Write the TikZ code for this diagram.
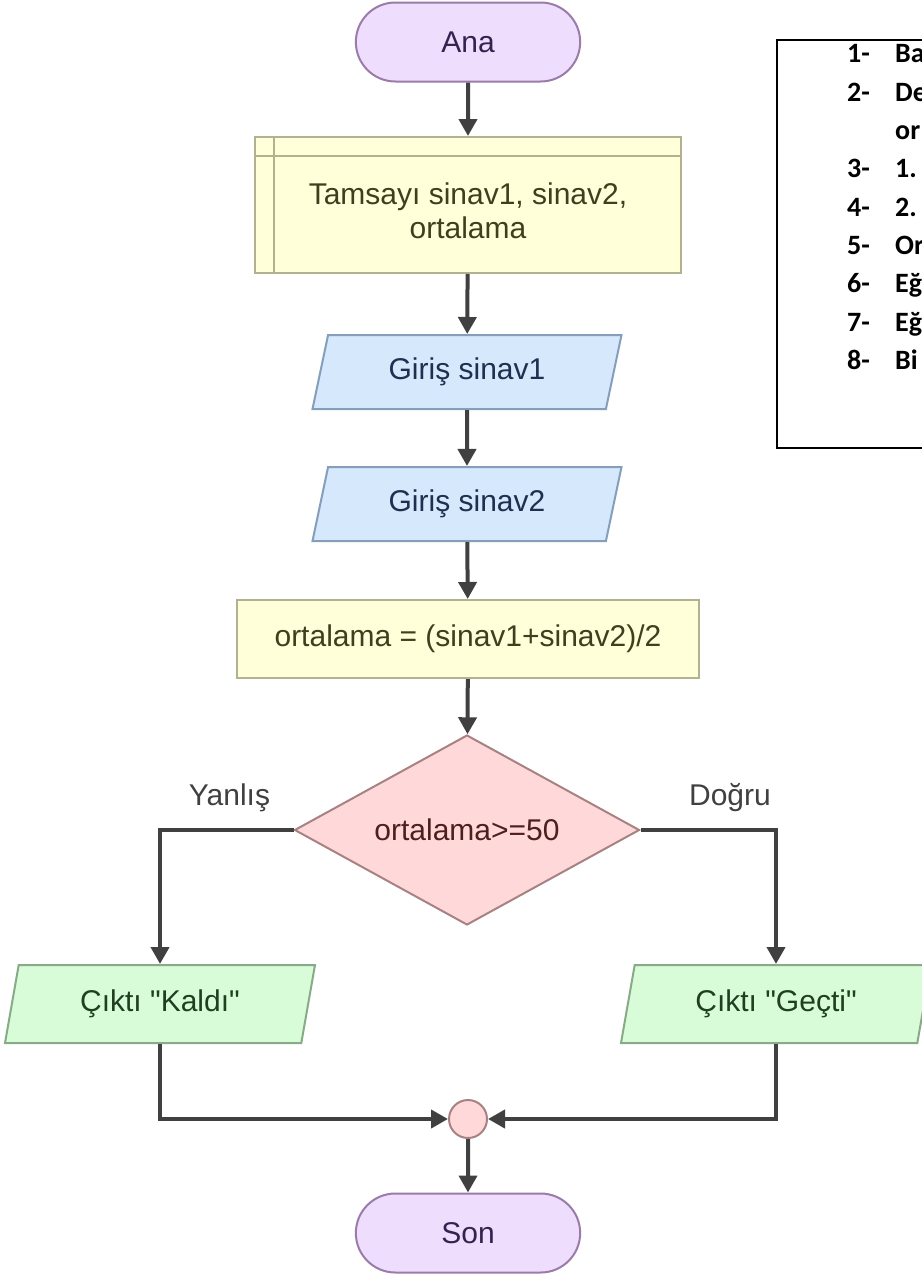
\documentclass[tikz,border=0pt]{standalone}
\usepackage{fontspec}
\setmainfont{Liberation Sans}
\newfontfamily\notefont{Carlito}
\usetikzlibrary{shapes.geometric,shapes.misc,arrows.meta}

\definecolor{termfill}{HTML}{EEDDFD}
\definecolor{termline}{HTML}{9A7BAA}
\definecolor{termtext}{HTML}{35234F}
\definecolor{declfill}{HTML}{FFFFDA}
\definecolor{declline}{HTML}{B2B290}
\definecolor{decltext}{HTML}{3F3F1F}
\definecolor{infill}{HTML}{D5E8FC}
\definecolor{inline}{HTML}{859EBB}
\definecolor{intext}{HTML}{1F2F4F}
\definecolor{condfill}{HTML}{FFD9D9}
\definecolor{condline}{HTML}{A88282}
\definecolor{condtext}{HTML}{4F1F1F}
\definecolor{outfill}{HTML}{D8FCD8}
\definecolor{outline}{HTML}{88AA88}
\definecolor{outtext}{HTML}{1F3F1F}
\definecolor{flowgray}{HTML}{404040}

\begin{document}
\begin{tikzpicture}[x=1pt,y=-1pt,
  every node/.style={font=\fontsize{30}{34}\selectfont},
  term/.style={rounded rectangle, draw=termline, fill=termfill, text=termtext,
    line width=2pt, minimum width=231pt, minimum height=79pt},
  declbox/.style={rectangle, draw=declline, fill=declfill, text=decltext,
    line width=2pt, minimum width=426pt, minimum height=136pt, inner sep=0pt},
  procbox/.style={rectangle, draw=declline, fill=declfill, text=decltext,
    line width=2pt, minimum width=462pt, minimum height=78pt},
  inbox/.style={trapezium, trapezium left angle=61, trapezium right angle=119,
    trapezium stretches body, draw=inline, fill=infill, text=intext,
    line width=2pt, minimum width=309pt, minimum height=74pt, inner sep=0pt},
  outbox/.style={trapezium, trapezium left angle=64, trapezium right angle=116,
    trapezium stretches body, draw=outline, fill=outfill, text=outtext,
    line width=2pt, minimum width=310pt, minimum height=78pt, inner sep=0pt},
  decision/.style={diamond, aspect=1.82, minimum width=345pt, minimum height=190pt,
    inner sep=0pt, draw=condline, fill=condfill, text=condtext, line width=2pt},
  joint/.style={circle, minimum size=38pt, inner sep=0pt, draw=condline,
    fill=condfill, line width=2pt},
  flow/.style={draw=flowgray, line width=4pt, -{Triangle[width=18pt,length=17pt]}},
  lbl/.style={text=flowgray, inner sep=0pt},
  stepnum/.style={font=\notefont\bfseries\fontsize{28}{32}\selectfont, inner sep=0pt, anchor=base west},
  notebox/.style={draw=black, line width=1.5pt}
]
\useasboundingbox (0,0) rectangle (921,1277);

% flowchart
\node[term] (ana) at (468,42) {Ana};
\node[declbox] (decl) at (468,205)
  {\raisebox{0pt}[\dimexpr\height+20pt\relax][\depth]{\begin{tabular}{@{}c@{}}Tamsayı sinav1, sinav2,\\ ortalama\end{tabular}}};
\draw[declline, line width=2pt] ([xshift=20pt]decl.north west) -- ([xshift=20pt]decl.south west);
\draw[declline, line width=2pt] ([yshift=-20pt]decl.north west) -- ([yshift=-20pt]decl.north east);
\node[inbox] (in1) at (467,372) {Giriş sinav1};
\node[inbox] (in2) at (467,504) {Giriş sinav2};
\node[procbox] (calc) at (468,639) {ortalama = (sinav1+sinav2)/2};
\node[decision] (cond) at (467,830) {ortalama>=50};
\node[outbox] (outF) at (160,1004) {Çıktı \textquotedbl Kaldı\textquotedbl};
\node[outbox] (outT) at (776,1004) {Çıktı \textquotedbl Geçti\textquotedbl};
\node[joint] (merge) at (468,1119) {};
\node[term] (son) at (468,1233) {Son};

\draw[flow] (ana) -- (decl);
\draw[flow] (decl) -- (in1);
\draw[flow] (in1) -- (in2);
\draw[flow] (in2) -- (calc);
\draw[flow] (calc) -- (cond);
\draw[flow] (cond.west) -| node[lbl, pos=0.24, above=16pt] {Yanlış} (outF.north);
\draw[flow] (cond.east) -| node[lbl, pos=0.33, above=16pt] {Doğru} (outT.north);
\draw[flow] (outF.south) |- (merge.west);
\draw[flow] (outT.south) |- (merge.east);
\draw[flow] (merge) -- (son);

% steps box
\draw[notebox] (777,40) rectangle (960,448);
\foreach \num/\txt/\ypos [count=\i] in {1-/Ba/62, 2-/De/101, /or/139, 3-/1./177,
    4-/2./216, 5-/Or/254, 6-/Eğ/292, 7-/Eğ/331, 8-/Bi/369} {
  \node[stepnum] (num\i) at (847,\ypos) {\num};
  \node[stepnum] (step\i) at (895,\ypos) {\txt};
}
\end{tikzpicture}
\end{document}
